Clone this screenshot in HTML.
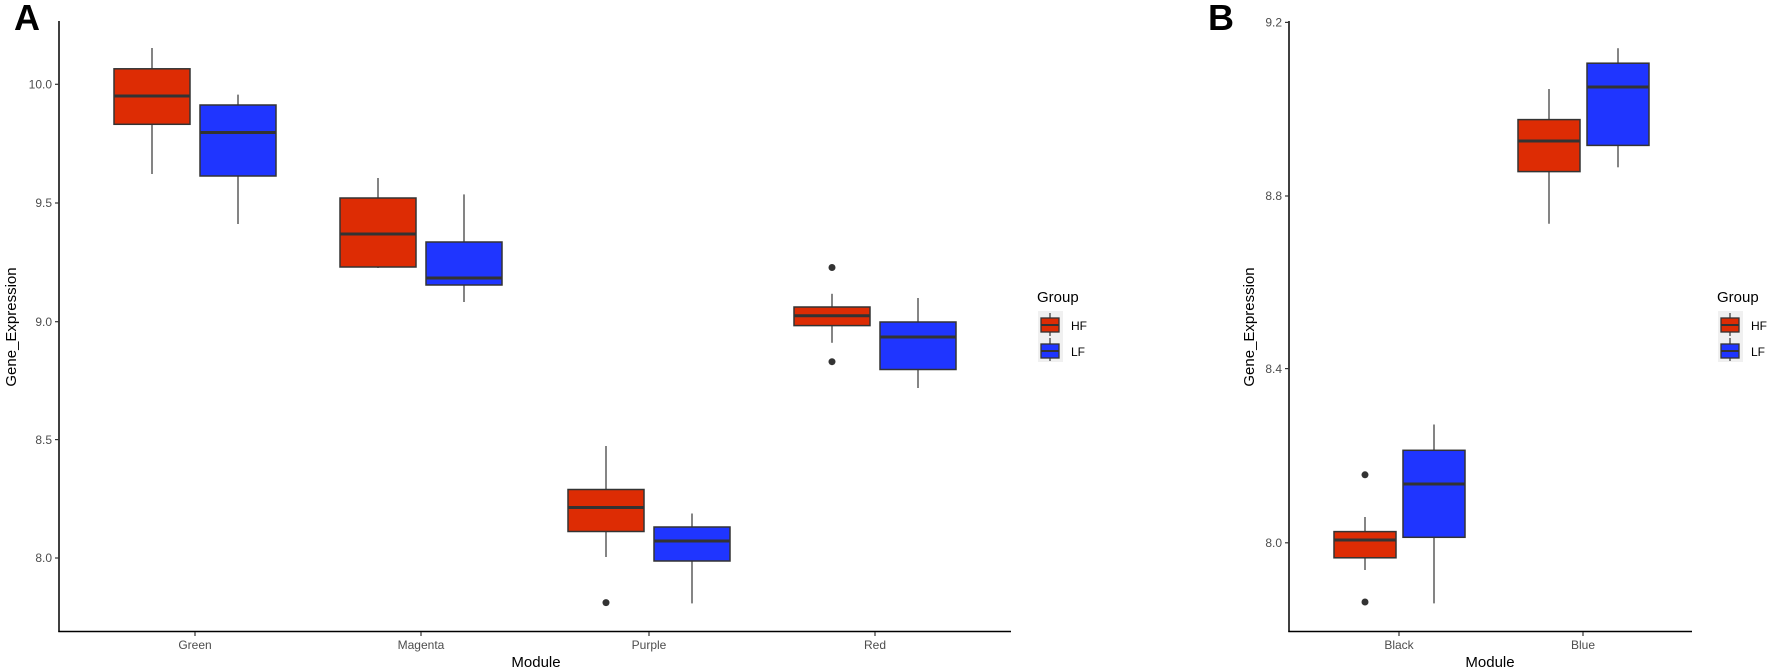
<!DOCTYPE html>
<html><head><meta charset="utf-8"><style>html,body{margin:0;padding:0;background:#fff}svg{display:block}</style></head>
<body>
<svg width="1772" height="671" viewBox="0 0 1772 671" xmlns="http://www.w3.org/2000/svg" font-family="Liberation Sans, Arial, sans-serif">
<defs>
<g id="boxA"></g>
</defs>
<!-- Panel labels -->
<text x="14" y="30" font-size="36" font-weight="bold">A</text>
<text x="1208" y="30" font-size="36" font-weight="bold">B</text>

<!-- Panel A axes -->
<g stroke="#000" stroke-width="1.5" fill="none">
<line x1="59" y1="21" x2="59" y2="632"/>
<line x1="58.3" y1="631.5" x2="1011" y2="631.5"/>
</g>
<g stroke="#333" stroke-width="1.2">
<line x1="55" y1="84.3" x2="59" y2="84.3"/>
<line x1="55" y1="203" x2="59" y2="203"/>
<line x1="55" y1="321.7" x2="59" y2="321.7"/>
<line x1="55" y1="439.6" x2="59" y2="439.6"/>
<line x1="55" y1="558" x2="59" y2="558"/>
<line x1="195" y1="632" x2="195" y2="636"/>
<line x1="421" y1="632" x2="421" y2="636"/>
<line x1="649" y1="632" x2="649" y2="636"/>
<line x1="875" y1="632" x2="875" y2="636"/>
</g>
<g font-size="12" fill="#4d4d4d" text-anchor="end">
<text x="52" y="88.5">10.0</text>
<text x="52" y="207">9.5</text>
<text x="52" y="326">9.0</text>
<text x="52" y="444">8.5</text>
<text x="52" y="562">8.0</text>
</g>
<g font-size="12" fill="#4d4d4d" text-anchor="middle">
<text x="195" y="649">Green</text>
<text x="421" y="649">Magenta</text>
<text x="649" y="649">Purple</text>
<text x="875" y="649">Red</text>
</g>
<text x="536" y="667" font-size="15" text-anchor="middle">Module</text>
<text transform="translate(16,327) rotate(-90)" font-size="15" text-anchor="middle">Gene_Expression</text>

<!-- Panel A boxes -->
<g stroke="#333">
<!-- Green HF c=152 -->
<line x1="152" y1="48" x2="152" y2="174" stroke-width="1.2"/>
<rect x="114" y="68.8" width="76" height="55.5" fill="#DD2C04" stroke-width="1.5"/>
<line x1="114" y1="96" x2="190" y2="96" stroke-width="3"/>
<!-- Green LF c=238 -->
<line x1="238" y1="94.6" x2="238" y2="224" stroke-width="1.2"/>
<rect x="200" y="105" width="76" height="71" fill="#1F35FF" stroke-width="1.5"/>
<line x1="200" y1="132.5" x2="276" y2="132.5" stroke-width="3"/>
<!-- Magenta HF c=378 -->
<line x1="378" y1="178" x2="378" y2="268" stroke-width="1.2"/>
<rect x="340" y="198" width="76" height="69" fill="#DD2C04" stroke-width="1.5"/>
<line x1="340" y1="234" x2="416" y2="234" stroke-width="3"/>
<!-- Magenta LF c=464 -->
<line x1="464" y1="194.4" x2="464" y2="302" stroke-width="1.2"/>
<rect x="426" y="242" width="76" height="43" fill="#1F35FF" stroke-width="1.5"/>
<line x1="426" y1="278" x2="502" y2="278" stroke-width="3"/>
<!-- Purple HF c=606 -->
<line x1="606" y1="446" x2="606" y2="557" stroke-width="1.2"/>
<rect x="568" y="489.5" width="76" height="42" fill="#DD2C04" stroke-width="1.5"/>
<line x1="568" y1="507.5" x2="644" y2="507.5" stroke-width="3"/>
<circle cx="606" cy="602.6" r="3.5" fill="#333" stroke="none"/>
<!-- Purple LF c=692 -->
<line x1="692" y1="513.5" x2="692" y2="603.4" stroke-width="1.2"/>
<rect x="654" y="527" width="76" height="34" fill="#1F35FF" stroke-width="1.5"/>
<line x1="654" y1="541" x2="730" y2="541" stroke-width="3"/>
<!-- Red HF c=832 -->
<line x1="832" y1="293.8" x2="832" y2="342.8" stroke-width="1.2"/>
<rect x="794" y="307" width="76" height="18.6" fill="#DD2C04" stroke-width="1.5"/>
<line x1="794" y1="315.7" x2="870" y2="315.7" stroke-width="3"/>
<circle cx="832" cy="267.5" r="3.5" fill="#333" stroke="none"/>
<circle cx="832" cy="361.7" r="3.5" fill="#333" stroke="none"/>
<!-- Red LF c=918 -->
<line x1="918" y1="298" x2="918" y2="388" stroke-width="1.2"/>
<rect x="880" y="322" width="76" height="47.5" fill="#1F35FF" stroke-width="1.5"/>
<line x1="880" y1="337" x2="956" y2="337" stroke-width="3"/>
</g>

<!-- Legend A -->
<text x="1037" y="302" font-size="15">Group</text>
<rect x="1038" y="311" width="25" height="51" fill="#f0f0f0"/>
<g stroke="#333">
<line x1="1050" y1="313" x2="1050" y2="336" stroke-width="1.2"/>
<rect x="1041" y="318" width="18" height="14" fill="#DD2C04" stroke-width="1.3"/>
<line x1="1041" y1="325" x2="1059" y2="325" stroke-width="2"/>
<line x1="1050" y1="338" x2="1050" y2="361" stroke-width="1.2"/>
<rect x="1041" y="344" width="18" height="14" fill="#1F35FF" stroke-width="1.3"/>
<line x1="1041" y1="351" x2="1059" y2="351" stroke-width="2"/>
</g>
<text x="1071" y="330" font-size="12">HF</text>
<text x="1071" y="356" font-size="12">LF</text>

<!-- Panel B axes -->
<g stroke="#000" stroke-width="1.5" fill="none">
<line x1="1289" y1="21" x2="1289" y2="632"/>
<line x1="1288.3" y1="631.5" x2="1692" y2="631.5"/>
</g>
<g stroke="#333" stroke-width="1.2">
<line x1="1285" y1="22.4" x2="1289" y2="22.4"/>
<line x1="1285" y1="196" x2="1289" y2="196"/>
<line x1="1285" y1="368.6" x2="1289" y2="368.6"/>
<line x1="1285" y1="542.8" x2="1289" y2="542.8"/>
<line x1="1399" y1="632" x2="1399" y2="636"/>
<line x1="1583" y1="632" x2="1583" y2="636"/>
</g>
<g font-size="12" fill="#4d4d4d" text-anchor="end">
<text x="1282" y="26.5">9.2</text>
<text x="1282" y="200">8.8</text>
<text x="1282" y="373">8.4</text>
<text x="1282" y="547">8.0</text>
</g>
<g font-size="12" fill="#4d4d4d" text-anchor="middle">
<text x="1399" y="649">Black</text>
<text x="1583" y="649">Blue</text>
</g>
<text x="1490" y="667" font-size="15" text-anchor="middle">Module</text>
<text transform="translate(1254,327) rotate(-90)" font-size="15" text-anchor="middle">Gene_Expression</text>

<g stroke="#333">
<!-- Black HF c=1365 -->
<line x1="1365" y1="517" x2="1365" y2="570" stroke-width="1.2"/>
<rect x="1334" y="531.6" width="62" height="26.2" fill="#DD2C04" stroke-width="1.5"/>
<line x1="1334" y1="540" x2="1396" y2="540" stroke-width="3"/>
<circle cx="1365" cy="474.8" r="3.5" fill="#333" stroke="none"/>
<circle cx="1365" cy="602" r="3.5" fill="#333" stroke="none"/>
<!-- Black LF c=1434 -->
<line x1="1434" y1="424.5" x2="1434" y2="603.4" stroke-width="1.2"/>
<rect x="1403" y="450.3" width="62" height="87" fill="#1F35FF" stroke-width="1.5"/>
<line x1="1403" y1="484" x2="1465" y2="484" stroke-width="3"/>
<!-- Blue HF c=1549 -->
<line x1="1549" y1="89" x2="1549" y2="223.7" stroke-width="1.2"/>
<rect x="1518" y="119.6" width="62" height="52" fill="#DD2C04" stroke-width="1.5"/>
<line x1="1518" y1="141" x2="1580" y2="141" stroke-width="3"/>
<!-- Blue LF c=1618 -->
<line x1="1618" y1="48.2" x2="1618" y2="167.3" stroke-width="1.2"/>
<rect x="1587" y="63.2" width="62" height="82.2" fill="#1F35FF" stroke-width="1.5"/>
<line x1="1587" y1="87" x2="1649" y2="87" stroke-width="3"/>
</g>

<!-- Legend B -->
<text x="1717" y="302" font-size="15">Group</text>
<rect x="1718" y="311" width="25" height="51" fill="#f0f0f0"/>
<g stroke="#333">
<line x1="1730" y1="313" x2="1730" y2="336" stroke-width="1.2"/>
<rect x="1721" y="318" width="18" height="14" fill="#DD2C04" stroke-width="1.3"/>
<line x1="1721" y1="325" x2="1739" y2="325" stroke-width="2"/>
<line x1="1730" y1="338" x2="1730" y2="361" stroke-width="1.2"/>
<rect x="1721" y="344" width="18" height="14" fill="#1F35FF" stroke-width="1.3"/>
<line x1="1721" y1="351" x2="1739" y2="351" stroke-width="2"/>
</g>
<text x="1751" y="330" font-size="12">HF</text>
<text x="1751" y="356" font-size="12">LF</text>
</svg>
</body></html>
